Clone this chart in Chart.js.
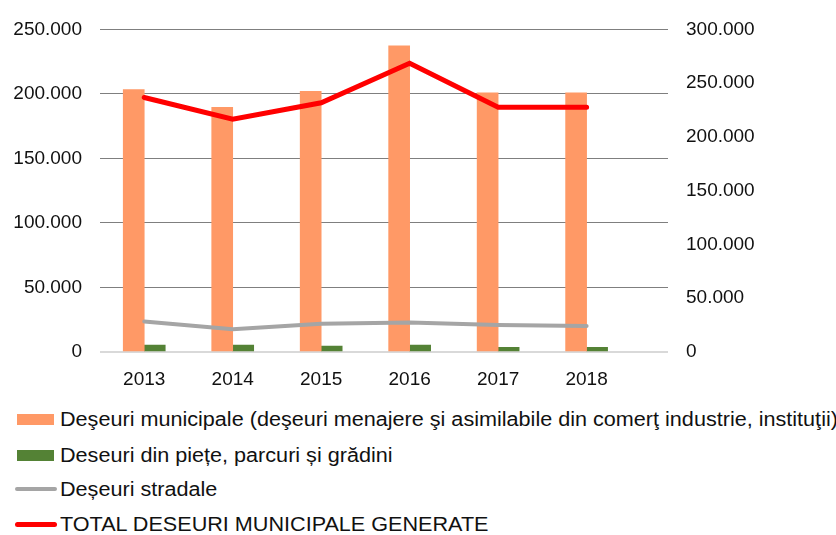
<!DOCTYPE html>
<html>
<head>
<meta charset="utf-8">
<script src="https://cdn.jsdelivr.net/npm/chart.js@4/dist/chart.umd.min.js"></script>
<style>
  body { margin: 0; background: #fff; }
  #wrap { position: relative; width: 836px; height: 535px; overflow: hidden; }
  #legend { position: absolute; left: 0; top: 0; width: 836px; font-family: "Liberation Sans", Arial, sans-serif; font-size: 20px; color: #111; }
  .item { position: absolute; left: 0; height: 24px; white-space: nowrap; }
  .swatch { position: absolute; top: 50%; }
  .label { position: absolute; left: 60px; top: 0; line-height: 24px; transform: scaleX(1.08); transform-origin: left center; }
</style>
</head>
<body>
<div id="wrap">
  <canvas id="myChart" width="836" height="400"></canvas>
  <div id="legend"></div>
</div>
<script>
const years = [2013, 2014, 2015, 2016, 2017, 2018];
const municipale = [203400, 189600, 202100, 237200, 200800, 200800];
const piete = [5300, 5300, 4600, 5300, 3600, 3600];
const stradale = [28400, 21100, 26300, 27500, 25000, 24100];
const total = [236700, 216500, 231800, 268500, 227500, 227500];

const seriesNames = [
  'Deşeuri municipale (deşeuri menajere şi asimilabile din comerţ industrie, instituţii)',
  'Deseuri din piețe, parcuri și grădini',
  'Deșeuri stradale',
  'TOTAL DESEURI MUNICIPALE GENERATE'
];

const pts = (arr) => arr.map((v, i) => ({ x: years[i], y: v }));
const fmt = (v) => String(v).replace(/\B(?=(\d{3})+(?!\d))/g, '.');
const font = { family: '"Liberation Sans", Arial, sans-serif', size: 19 };

const data = {
  datasets: [
    {
      type: 'bar',
      label: seriesNames[0],
      data: pts(municipale),
      backgroundColor: 'rgb(255,153,102)',
      barThickness: 21,
      yAxisID: 'y',
      order: 3,
    },
    {
      type: 'bar',
      label: seriesNames[1],
      data: pts(piete),
      backgroundColor: 'rgb(84,130,53)',
      barThickness: 21,
      yAxisID: 'y',
      order: 4,
    },
    {
      type: 'line',
      label: seriesNames[2],
      data: pts(stradale),
      borderColor: 'rgb(165,165,165)',
      backgroundColor: 'rgb(165,165,165)',
      borderWidth: 4,
      borderCapStyle: 'round',
      pointRadius: 0,
      tension: 0,
      yAxisID: 'y1',
      order: 2,
    },
    {
      type: 'line',
      label: seriesNames[3],
      data: pts(total),
      borderColor: 'rgb(255,0,0)',
      backgroundColor: 'rgb(255,0,0)',
      borderWidth: 5,
      borderCapStyle: 'round',
      pointRadius: 0,
      tension: 0,
      yAxisID: 'y1',
      order: 1,
    },
  ],
};

const config = {
  type: 'bar',
  data: data,
  options: {
    responsive: false,
    animation: false,
    layout: { padding: { top: 25, bottom: 0, left: 0, right: 0 } },
    plugins: {
      legend: { display: false },
      tooltip: { enabled: false },
    },
    scales: {
      x: {
        type: 'linear',
        min: 2012.5,
        max: 2018.92,
        offset: false,
        grid: { display: false, drawTicks: false },
        border: { display: false },
        afterBuildTicks: (scale) => { scale.ticks = years.map((v) => ({ value: v })); },
        afterFit: (scale) => { scale.height = 48; },
        ticks: {
          padding: 16,
          color: '#111',
          font: font,
          callback: (v) => String(v),
        },
      },
      y: {
        position: 'left',
        min: 0,
        max: 250000,
        afterFit: (scale) => { scale.width = 100; },
        border: { display: false },
        grid: {
          drawTicks: false,
          color: (ctx) => (ctx.tick && ctx.tick.value === 0 ? '#d9d9d9' : '#7f7f7f'),
          lineWidth: (ctx) => (ctx.tick && ctx.tick.value === 0 ? 2 : 1),
        },
        ticks: { stepSize: 50000, padding: 18, color: '#111', font: font, callback: (v) => fmt(v) },
      },
      y1: {
        position: 'right',
        min: 0,
        max: 300000,
        afterFit: (scale) => { scale.width = 168; },
        border: { display: false },
        grid: { display: false, drawTicks: false },
        ticks: { stepSize: 50000, padding: 18, color: '#111', font: font, callback: (v) => fmt(v) },
      },
    },
  },
};

const chart = new Chart(document.getElementById('myChart'), config);

// legend: one item per row, like the original
const rowCenters = [419, 455, 489, 524];
const legendEl = document.getElementById('legend');
chart.data.datasets.forEach((ds, i) => {
  const row = document.createElement('div');
  row.className = 'item';
  row.style.top = (rowCenters[i] - 12) + 'px';
  const sw = document.createElement('span');
  sw.className = 'swatch';
  if (ds.type === 'bar') {
    sw.style.left = '17px';
    sw.style.width = '37px';
    sw.style.height = '11px';
    sw.style.marginTop = '-5.5px';
    sw.style.background = ds.backgroundColor;
  } else {
    sw.style.left = '15px';
    sw.style.width = '42px';
    sw.style.height = ds.borderWidth + 'px';
    sw.style.marginTop = (-ds.borderWidth / 2) + 'px';
    sw.style.borderRadius = ds.borderWidth + 'px';
    sw.style.background = ds.borderColor;
  }
  const txt = document.createElement('span');
  txt.className = 'label';
  txt.textContent = ds.label;
  row.appendChild(sw);
  row.appendChild(txt);
  legendEl.appendChild(row);
});
</script>
</body>
</html>
